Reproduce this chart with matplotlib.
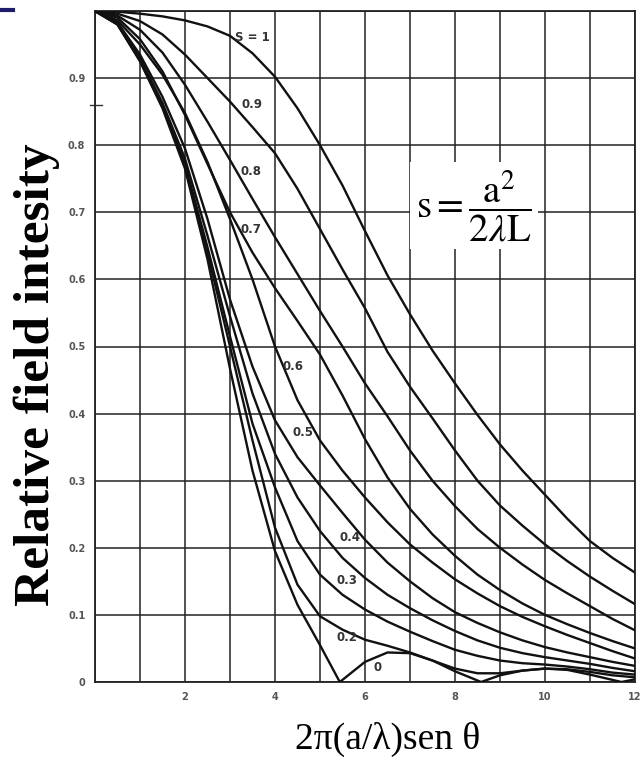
import matplotlib
matplotlib.use("Agg")
import matplotlib.pyplot as plt
from matplotlib.lines import Line2D

plt.rcParams['mathtext.fontset'] = 'stix'

# abscissa shared by the read-off curves
x = [0, 0.5, 1, 1.5, 2, 2.5, 3, 3.5, 4, 4.5, 5, 5.5, 6, 6.5, 7, 7.5, 8,
     8.5, 9, 9.5, 10, 10.5, 11, 11.5, 12]

s10 = [1, 0.999, 0.996, 0.992, 0.986, 0.977, 0.963, 0.937, 0.902, 0.855, 0.8,
       0.74, 0.672, 0.606, 0.548, 0.494, 0.445, 0.398, 0.354, 0.315, 0.279,
       0.243, 0.21, 0.185, 0.163]
s09 = [1, 0.996, 0.985, 0.965, 0.935, 0.9, 0.865, 0.827, 0.788, 0.735, 0.675,
       0.615, 0.557, 0.492, 0.44, 0.393, 0.345, 0.3, 0.263, 0.233, 0.205,
       0.18, 0.157, 0.136, 0.116]
s08 = [1, 0.993, 0.972, 0.938, 0.89, 0.835, 0.778, 0.72, 0.663, 0.608, 0.553,
       0.5, 0.445, 0.396, 0.345, 0.3, 0.262, 0.228, 0.2, 0.175, 0.152,
       0.132, 0.113, 0.094, 0.077]
s07 = [1, 0.99, 0.958, 0.91, 0.845, 0.772, 0.7, 0.64, 0.587, 0.538, 0.488,
       0.427, 0.362, 0.305, 0.258, 0.22, 0.188, 0.16, 0.137, 0.117, 0.1,
       0.086, 0.073, 0.061, 0.05]
s06 = [1, 0.986, 0.95, 0.905, 0.848, 0.775, 0.69, 0.6, 0.5, 0.42, 0.36,
       0.315, 0.275, 0.238, 0.205, 0.178, 0.153, 0.132, 0.113, 0.097, 0.083,
       0.07, 0.058, 0.046, 0.035]
s05 = [1, 0.983, 0.935, 0.872, 0.795, 0.69, 0.57, 0.47, 0.39, 0.335, 0.293,
       0.252, 0.212, 0.178, 0.15, 0.125, 0.104, 0.088, 0.074, 0.062, 0.052,
       0.044, 0.037, 0.03, 0.024]
s04 = [1, 0.981, 0.93, 0.863, 0.78, 0.665, 0.545, 0.43, 0.34, 0.275, 0.225,
       0.185, 0.155, 0.13, 0.11, 0.092, 0.076, 0.062, 0.051, 0.043, 0.037,
       0.032, 0.027, 0.021, 0.016]
s03 = [1, 0.98, 0.927, 0.859, 0.772, 0.648, 0.515, 0.385, 0.29, 0.21, 0.16,
       0.13, 0.108, 0.09, 0.075, 0.061, 0.048, 0.039, 0.032, 0.028, 0.026,
       0.023, 0.019, 0.014, 0.011]
s02 = [1, 0.98, 0.926, 0.857, 0.768, 0.64, 0.5, 0.36, 0.23, 0.145, 0.098,
       0.078, 0.063, 0.054, 0.044, 0.032, 0.02, 0.013, 0.013, 0.017, 0.02,
       0.019, 0.015, 0.01, 0.007]

# s = 0 has real nulls, so it gets its own abscissa
x0 = [0, 0.5, 1, 1.5, 2, 2.5, 3, 3.5, 4, 4.5, 5, 5.44, 6, 6.5, 7, 7.5, 8,
      8.58, 9, 9.5, 10, 10.5, 11, 11.7, 12]
s00 = [1, 0.98, 0.925, 0.855, 0.765, 0.63, 0.467, 0.315, 0.195, 0.115, 0.055,
       0.0, 0.03, 0.044, 0.043, 0.032, 0.016, 0.0, 0.01, 0.017, 0.02,
       0.018, 0.011, 0.0, 0.004]

curves = [(x, s10), (x, s09), (x, s08), (x, s07), (x, s06), (x, s05),
          (x, s04), (x, s03), (x, s02), (x0, s00)]

curve_labels = ['S = 1', '0.9', '0.8', '0.7', '0.6', '0.5', '0.4', '0.3',
                '0.2', '0']
label_pos = [(3.5, 0.961), (3.5, 0.861), (3.47, 0.761), (3.47, 0.675),
             (4.4, 0.47), (4.62, 0.372), (5.67, 0.216), (5.6, 0.152),
             (5.6, 0.067), (6.27, 0.021)]

xtick_labels = ['', '', '2', '', '4', '', '6', '', '8', '', '10', '', '12']
ytick_labels = ['0', '0.1', '0.2', '0.3', '0.4', '0.5', '0.6', '0.7', '0.8',
                '0.9', '']

fig = plt.figure(figsize=(6.41, 7.58), dpi=100)
ax = fig.add_axes([95 / 641, 76 / 758, 540 / 641, 671 / 758])

for xs, ys in curves:
    ax.plot(xs, ys, color='#111111', lw=1.7, solid_capstyle='round', zorder=4)

for txt, (lx, ly) in zip(curve_labels, label_pos):
    ax.text(lx, ly, txt, fontsize=8.5, color='#333333', ha='center',
            va='center', fontweight='bold', zorder=5)

ax.set_xlim(0, 12)
ax.set_ylim(0, 1)
ax.set_xticks(range(13))
ax.set_xticklabels(xtick_labels)
ax.set_yticks([i / 10 for i in range(11)])
ax.set_yticklabels(ytick_labels)
ax.tick_params(length=0, labelsize=7, labelcolor='#555555', pad=7)
for lab in ax.get_xticklabels() + ax.get_yticklabels():
    lab.set_fontweight('bold')
ax.set_axisbelow(True)
ax.grid(True, color='#222222', lw=1.1)
for sp in ax.spines.values():
    sp.set_color('#222222')
    sp.set_linewidth(1.3)

# small scan mark across the left edge
ax.plot([-0.12, 0.15], [0.86, 0.86], color='#333333', lw=1.0, clip_on=False)

# formula box hides the grid behind it
ax.text(8.42, 0.71, r'$\mathrm{s}=\dfrac{\mathrm{a}^{2}}{2\lambda\mathrm{L}}$',
        fontsize=28, ha='center', va='center', zorder=3,
        bbox=dict(boxstyle='square,pad=0.15', fc='white', ec='none'))

fig.text(0.058, 0.506, 'Relative field intesity', rotation=90,
         family='Liberation Serif', fontweight='bold', fontsize=37,
         ha='center', va='center')
fig.text(0.605, 0.024, '2π(a/λ)sen θ', family='Liberation Serif',
         fontsize=27, ha='center', va='center')

fig.add_artist(Line2D([0, 0.02], [0.987, 0.987], color='#1c1c6b', lw=3))

fig.savefig('out.png', dpi=100, facecolor='white')
